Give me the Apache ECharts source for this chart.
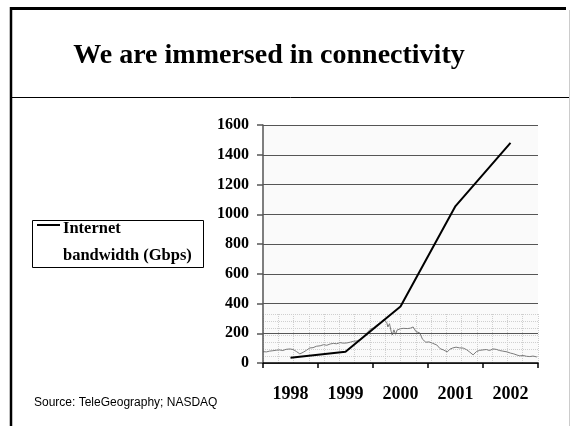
<!DOCTYPE html>
<html>
<head>
<meta charset="utf-8">
<script src="https://cdn.jsdelivr.net/npm/echarts@6/dist/echarts.min.js"></script>
<style>
  html, body { margin: 0; padding: 0; background: #fff; }
  #chart { width: 571px; height: 426px; }
</style>
</head>
<body>
<div id="chart"></div>
<script>
// bandwidth series (Gbps)
const years = ['1998', '1999', '2000', '2001', '2002'];
const bandwidth = [35, 76, 380, 1055, 1480];
const yTicks = [0, 200, 400, 600, 800, 1000, 1200, 1400, 1600];

// NASDAQ composite
const nasdaqDates = [
  1998.00, 1998.06, 1998.12, 1998.18, 1998.24, 1998.30, 1998.36, 1998.42, 1998.49, 1998.55,
  1998.61, 1998.67, 1998.73, 1998.79, 1998.85, 1998.91, 1998.97, 1999.04, 1999.10, 1999.16,
  1999.22, 1999.28, 1999.34, 1999.40, 1999.46, 1999.53, 1999.59, 1999.65, 1999.71, 1999.77,
  1999.83, 1999.89, 1999.95, 2000.01, 2000.07, 2000.13, 2000.19, 2000.22, 2000.25, 2000.27,
  2000.30, 2000.33, 2000.35, 2000.38, 2000.41, 2000.44, 2000.50, 2000.55, 2000.58, 2000.63,
  2000.68, 2000.73, 2000.78, 2000.85, 2000.90, 2000.96, 2001.02, 2001.08, 2001.16, 2001.22,
  2001.28, 2001.35, 2001.40, 2001.45, 2001.51, 2001.57, 2001.64, 2001.70, 2001.76, 2001.82,
  2001.88, 2001.94, 2002.00, 2002.06, 2002.12, 2002.18, 2002.24, 2002.30, 2002.36, 2002.44,
  2002.50, 2002.56, 2002.62, 2002.67, 2002.73, 2002.79, 2002.85, 2002.91, 2002.98
];
const nasdaqValues = [
  1650, 1620, 1700, 1740, 1790, 1820, 1760, 1880, 1920, 1860,
  1650, 1420, 1580, 1780, 2020, 2050, 2190, 2240, 2350, 2290,
  2420, 2480, 2440, 2560, 2500, 2530, 2610, 2700, 2730, 2880,
  3220, 3540, 3900, 4070, 4340, 4560, 4900, 5050, 4600, 4140,
  4470, 3700, 3330, 3850, 3400, 3840, 3960, 4000, 4140, 3980,
  4020, 4140, 3680, 3540, 2900, 2600, 2630, 2500, 2320, 1950,
  1820, 1620, 1900, 2020, 2100, 2030, 2010, 1850, 1600, 1320,
  1650, 1780, 1820, 1860, 1760, 1920, 1880, 1760, 1700, 1620,
  1500, 1420, 1300, 1220, 1260, 1180, 1150, 1200, 1110
];

const serif = 'Liberation Serif';
const chart = echarts.init(document.getElementById('chart'), null, { renderer: 'canvas' });

chart.setOption({
  backgroundColor: '#fff',
  animation: false,
  grid: [
    { left: 263, right: 33, top: 125, bottom: 63, show: true, backgroundColor: '#fafafa', borderWidth: 0 },
    { left: 263, right: 33, top: 314, bottom: 63, show: false }
  ],
  xAxis: [{
    type: 'category',
    gridIndex: 0,
    data: years,
    boundaryGap: true,
    axisLine: { lineStyle: { color: '#000', width: 1.5 } },
    axisTick: { show: true, length: 5, lineStyle: { color: '#000', width: 1.5 } },
    axisLabel: { color: '#000', fontFamily: serif, fontWeight: 'bold', fontSize: 18, margin: 22 },
    z: 3
  }, {
    // dotted grid of the NASDAQ inset
    type: 'value', gridIndex: 1, min: 0, max: 18, interval: 1,
    axisLine: { show: false }, axisTick: { show: false }, axisLabel: { show: false },
    splitLine: { show: true, lineStyle: { color: '#cfcfcf', type: 'dotted', width: 1 } },
    z: 1
  }, {
    type: 'value', gridIndex: 1, min: 1998, max: 2003, show: false
  }],
  yAxis: [{
    type: 'value',
    gridIndex: 0,
    min: 0, max: 1600, interval: 200,
    axisLine: { show: true, lineStyle: { color: '#555', width: 1.5 } },
    axisTick: { show: true, length: 6, lineStyle: { color: '#555', width: 1.5 } },
    axisLabel: {
      color: '#000', fontFamily: serif, fontWeight: 'bold', fontSize: 16, margin: 14,
      formatter: v => yTicks.includes(v) ? String(v) : ''
    },
    splitLine: { show: true, lineStyle: { color: '#555', width: 1.2 } },
    z: 3
  }, {
    type: 'value', gridIndex: 1, min: 0, max: 7, interval: 1,
    axisLine: { show: false }, axisTick: { show: false }, axisLabel: { show: false },
    splitLine: { show: true, lineStyle: { color: '#cfcfcf', type: 'dotted', width: 1 } },
    z: 1
  }, {
    type: 'value', gridIndex: 1, min: 500, max: 5450, show: false
  }],
  series: [{
    name: 'NASDAQ',
    type: 'line',
    xAxisIndex: 2,
    yAxisIndex: 2,
    data: nasdaqDates.map((d, i) => [d, nasdaqValues[i]]),
    showSymbol: false,
    lineStyle: { color: '#7a7a7a', width: 1 },
    silent: true,
    z: 2
  }, {
    name: 'Internet bandwidth (Gbps)',
    type: 'line',
    xAxisIndex: 0,
    yAxisIndex: 0,
    data: bandwidth,
    showSymbol: false,
    lineStyle: { color: '#000', width: 2 },
    z: 5
  }],
  graphic: [
    // slide frame
    { type: 'line', shape: { x1: 10, y1: 8.5, x2: 566, y2: 8.5 }, style: { stroke: '#000', lineWidth: 3 } },
    { type: 'line', shape: { x1: 11, y1: 7, x2: 11, y2: 426 }, style: { stroke: '#000', lineWidth: 2.5 } },
    { type: 'line', shape: { x1: 569.5, y1: 10, x2: 569.5, y2: 426 }, style: { stroke: '#ccc', lineWidth: 1 } },
    { type: 'line', shape: { x1: 12, y1: 97.5, x2: 569, y2: 97.5 }, style: { stroke: '#000', lineWidth: 1 } },
    // title
    {
      type: 'text', x: 269, y: 70,
      style: { text: 'We are immersed in connectivity', fill: '#000', font: 'bold 28px "Liberation Serif"', textAlign: 'center', textVerticalAlign: 'bottom' }
    },
    // legend box
    { type: 'rect', shape: { x: 32.5, y: 220.5, width: 171, height: 47 }, style: { fill: '#fff', stroke: '#000', lineWidth: 1 } },
    { type: 'line', shape: { x1: 37, y1: 225, x2: 60, y2: 225 }, style: { stroke: '#000', lineWidth: 2 } },
    {
      type: 'text', x: 63, y: 237,
      style: { text: 'Internet', fill: '#000', font: 'bold 16.5px "Liberation Serif"', textVerticalAlign: 'bottom' }
    },
    {
      type: 'text', x: 63, y: 264,
      style: { text: 'bandwidth (Gbps)', fill: '#000', font: 'bold 16.5px "Liberation Serif"', textVerticalAlign: 'bottom' }
    },
    // source note
    {
      type: 'text', x: 34, y: 403,
      style: { text: 'Source: TeleGeography; NASDAQ', fill: '#000', font: '12px "Liberation Sans"', textVerticalAlign: 'middle' }
    }
  ]
});
</script>
</body>
</html>
